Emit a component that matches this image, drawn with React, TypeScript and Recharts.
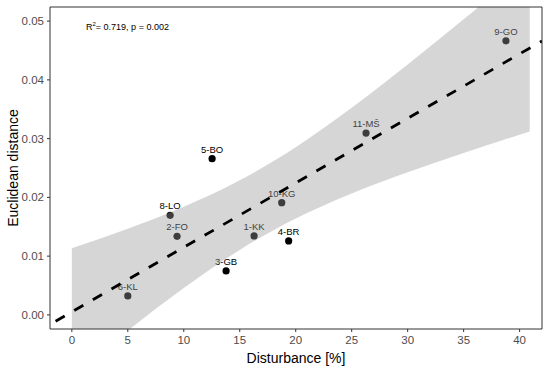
import React from "react"
import {
  ComposedChart,
  Scatter,
  Area,
  Line,
  XAxis,
  YAxis,
  ReferenceArea,
} from "recharts"

// sites (disturbance %, euclidean distance)
const siteNames = ["1-KK", "2-FO", "3-GB", "4-BR", "5-BO", "6-KL", "8-LO", "9-GO", "10-KG", "11-MŠ"]
const disturbance = [16.28, 9.4, 13.78, 19.37, 12.53, 5.0, 8.78, 38.78, 18.75, 26.28]
const euclidean = [0.01344, 0.01338, 0.00748, 0.01259, 0.02658, 0.00323, 0.01695, 0.04665, 0.0191, 0.03095]

// confidence band of the fit
const bandX = [0, 5, 10, 15, 20, 25, 30, 35, 40.9]
const bandLower = [-0.0103, -0.00267, 0.00457, 0.01106, 0.0164, 0.02067, 0.02428, 0.02756, 0.03121]
const bandUpper = [0.01134, 0.01467, 0.01841, 0.0229, 0.02854, 0.03525, 0.0426, 0.0503, 0.05961]

// regression line
const fitX = [-1.45, 42]
const fitY = [-0.00107, 0.04661]

const xTicks = [0, 5, 10, 15, 20, 25, 30, 35, 40]
const yTicks = [0, 0.01, 0.02, 0.03, 0.04, 0.05]

const points = siteNames.map((name, i) => ({ name, x: disturbance[i], y: euclidean[i] }))
const band = bandX.map((x, i) => ({ x, range: [bandLower[i], bandUpper[i]] }))
const fit = fitX.map((x, i) => ({ x, y: fitY[i] }))

const font = "'Liberation Sans', Arial, sans-serif"
const X_DOMAIN = [-1.95, 42]
const Y_DOMAIN = [-0.0024, 0.0524]

const SiteDot = (props: any) => {
  const { cx, cy, payload } = props
  return (
    <g>
      <circle cx={cx} cy={cy} r={3.6} fill="#000" />
      <text x={cx} y={cy - 6} textAnchor="middle" fontSize={9.5} fontFamily={font} fill="#000">
        {payload.name}
      </text>
    </g>
  )
}

export default function App() {
  return (
    <div style={{ position: "absolute", left: 0, top: 0, width: 550, height: 369, background: "#fff" }}>
      <ComposedChart width={550} height={369} margin={{ top: 7, right: 8, left: 0, bottom: 0 }}>
        <XAxis
          type="number"
          dataKey="x"
          domain={X_DOMAIN}
          ticks={xTicks}
          allowDataOverflow
          height={40}
          tickSize={3}
          tickMargin={4}
          axisLine={false}
          tickLine={{ stroke: "#333" }}
          tick={{ fill: "#4d4d4d", fontSize: 11.5, fontFamily: font }}
          label={{
            value: "Disturbance [%]",
            position: "insideBottom",
            offset: 6,
            style: { fill: "#000", fontSize: 14, fontFamily: font },
          }}
        />
        <YAxis
          type="number"
          domain={Y_DOMAIN}
          ticks={yTicks}
          allowDataOverflow
          width={50}
          tickSize={3}
          tickMargin={3}
          axisLine={false}
          tickLine={{ stroke: "#333" }}
          tickFormatter={(v: number) => v.toFixed(2)}
          tick={{ fill: "#4d4d4d", fontSize: 11.5, fontFamily: font }}
          label={{
            value: "Euclidean distance",
            angle: -90,
            position: "insideLeft",
            offset: 13,
            style: { fill: "#000", fontSize: 14, fontFamily: font, textAnchor: "middle" },
          }}
        />
        <Scatter data={points} dataKey="y" shape={<SiteDot />} isAnimationActive={false} />
        <Area
          data={band}
          dataKey="range"
          type="monotone"
          fill="#999999"
          fillOpacity={0.4}
          stroke="none"
          isAnimationActive={false}
          zIndex={700}
        />
        <Line
          data={fit}
          dataKey="y"
          type="linear"
          stroke="#000"
          strokeWidth={2.8}
          strokeDasharray="10.5 11"
          dot={false}
          activeDot={false}
          isAnimationActive={false}
          zIndex={800}
        />
        <ReferenceArea
          x1={X_DOMAIN[0]}
          x2={X_DOMAIN[1]}
          y1={Y_DOMAIN[0]}
          y2={Y_DOMAIN[1]}
          fill="none"
          stroke="#333"
          strokeWidth={1}
          zIndex={900}
        />
      </ComposedChart>
      <div
        style={{
          position: "absolute",
          left: 86,
          top: 22,
          fontSize: 9,
          fontFamily: font,
          color: "#000",
          whiteSpace: "nowrap",
          lineHeight: "11px",
        }}
      >
        R<span style={{ fontSize: 6, verticalAlign: "super", lineHeight: 0 }}>2</span>= 0.719, p = 0.002
      </div>
    </div>
  )
}
